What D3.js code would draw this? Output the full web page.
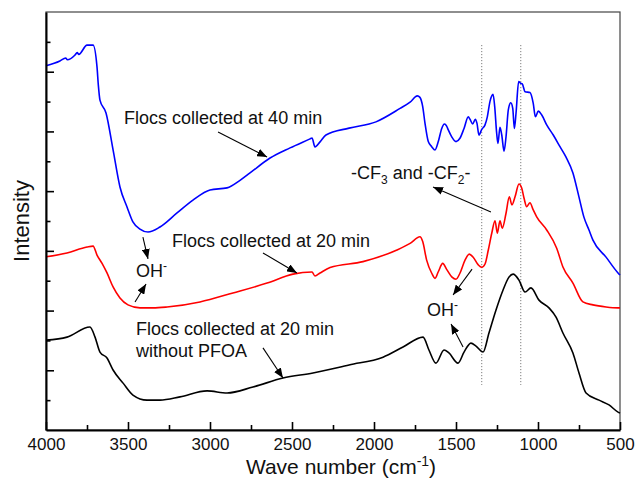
<!DOCTYPE html>
<html>
<head>
<meta charset="utf-8">
<script src="https://cdn.jsdelivr.net/npm/d3@7"></script>
<style>
  html, body { margin: 0; padding: 0; background: #fff; }
  svg { display: block; font-family: Arial, "Liberation Sans", sans-serif; }
</style>
</head>
<body>
<svg id="chart" width="636" height="481"></svg>
<script>
// FTIR spectra: wavenumber (cm-1) and relative intensity (offset, arbitrary units)
const wave40 = [4000,3915,3880,3870,3823,3810,3800,3750,3713,3689,3681,3671,3634,3591,3549,3506,3470,3427,3378,3305,3201,3104,3000,2896,2817,2756,2634,2512,2390,2378,2360,2329,2293,2152,1988,1841,1780,1736,1720,1703,1689,1669,1648,1628,1608,1587,1571,1557,1547,1526,1500,1476,1451,1425,1415,1398,1382,1372,1360,1343,1323,1309,1293,1274,1264,1252,1244,1232,1221,1207,1195,1181,1166,1154,1144,1134,1118,1105,1096,1079,1049,1029,1016,998,977,947,907,866,829,787,750,720,689,665,585,512,500];
const int40 = [12.20,12.36,12.46,12.40,12.56,12.64,12.58,12.89,12.89,12.16,11.56,11.05,10.62,9.38,8.14,7.47,6.97,6.73,6.63,6.80,7.27,7.70,8.04,8.11,8.36,8.61,9.11,9.45,9.75,9.78,9.48,9.65,9.88,10.11,10.32,10.77,10.98,11.19,11.14,10.83,10.27,9.66,9.49,9.38,9.66,10.10,10.25,10.18,10.05,9.82,9.66,9.77,10.10,10.49,10.41,10.25,10.41,10.27,9.88,10.07,10.22,10.49,11.00,11.24,10.83,9.94,9.60,10.14,9.88,9.34,9.82,10.72,10.96,10.77,10.10,10.61,11.67,11.61,11.59,11.33,11.30,10.94,10.49,10.68,10.55,10.22,9.88,9.49,9.14,8.61,7.80,7.13,6.70,6.36,5.79,5.26,5.19];

const wave20 = [4000,3872,3750,3713,3689,3659,3628,3591,3549,3500,3427,3348,3262,3061,2860,2652,2494,2378,2360,2329,2268,2067,1860,1780,1720,1703,1679,1648,1628,1608,1581,1557,1526,1500,1476,1445,1419,1394,1364,1343,1323,1303,1282,1262,1248,1232,1218,1195,1175,1159,1140,1116,1099,1085,1069,1049,1029,1008,947,886,848,787,726,665,585,512,500];
const int20 = [5.80,5.93,6.13,6.16,5.86,5.59,5.26,4.79,4.42,4.19,4.09,4.09,4.12,4.29,4.59,4.92,5.22,5.29,5.16,5.26,5.44,5.64,6.03,6.25,6.47,6.31,5.69,5.25,5.08,5.30,5.58,5.38,5.13,5.05,5.25,5.69,5.89,5.78,5.53,5.45,5.56,6.03,6.59,7.01,6.59,7.01,6.76,7.26,7.81,7.54,7.81,8.24,8.10,7.76,7.48,7.61,7.37,7.14,6.70,6.09,5.46,4.92,4.29,4.19,4.12,4.09,4.09];

const waveNoPFOA = [4000,3872,3732,3701,3671,3628,3591,3530,3470,3384,3305,3183,3018,2896,2738,2555,2372,2152,1945,1823,1701,1665,1622,1573,1543,1488,1451,1409,1378,1335,1299,1256,1213,1177,1152,1116,1079,1043,994,933,890,848,787,750,707,628,567,512,500];
const intNoPFOA = [3.01,3.11,3.45,3.11,2.61,2.41,2.01,1.57,1.17,1.00,1.00,1.11,1.31,1.24,1.44,1.74,1.91,2.18,2.44,2.78,3.11,2.68,2.24,2.68,2.58,2.24,2.61,2.91,2.81,2.61,3.25,4.02,4.69,5.12,5.22,5.02,4.62,4.76,4.35,4.09,3.78,3.25,2.58,1.91,1.24,1.00,0.84,0.60,0.57];

const xMajorTicks = [4000,3500,3000,2500,2000,1500,1000,500];
const xMinorTicks = [3750,3250,2750,2250,1750,1250,750];
const yTicks = [1,2,3,4,5,6,7,8,9,10,11,12,13];
const markerLines = [1343,1105];

const svg = d3.select("#chart");
const W = 636, H = 481;
const m = {top: 12, right: 16, bottom: 51, left: 46};

const x = d3.scaleLinear().domain([4000, 500]).range([m.left, W - m.right]);
const y = d3.scaleLinear().domain([0, 14]).range([H - m.bottom, m.top]);

// arrowhead marker
svg.append("defs").append("marker")
  .attr("id", "arrow")
  .attr("viewBox", "0 0 10 8")
  .attr("refX", 10).attr("refY", 4)
  .attr("markerWidth", 10).attr("markerHeight", 8)
  .attr("markerUnits", "userSpaceOnUse")
  .attr("orient", "auto")
  .append("path").attr("d", "M0,0 L10,4 L0,8 Z").attr("fill", "#000");

// plot frame
svg.append("rect")
  .attr("x", m.left).attr("y", m.top)
  .attr("width", W - m.left - m.right).attr("height", H - m.top - m.bottom)
  .attr("fill", "none").attr("stroke", "#444").attr("stroke-width", 1.2);

// dotted reference lines at the C-F bands
svg.append("g").selectAll("line").data(markerLines).join("line")
  .attr("x1", d => x(d)).attr("x2", d => x(d))
  .attr("y1", y(12.89)).attr("y2", y(1.51))
  .attr("stroke", "#666").attr("stroke-width", 1)
  .attr("stroke-dasharray", "1,2");

// spectra
const line = d3.line().x(d => x(d[0])).y(d => y(d[1])).curve(d3.curveMonotoneX);
const series = [
  {w: waveNoPFOA, v: intNoPFOA, color: "#000000"},
  {w: wave20, v: int20, color: "#ff0000"},
  {w: wave40, v: int40, color: "#0000ff"}
];
svg.append("g").selectAll("path").data(series).join("path")
  .attr("d", s => line(s.w.map((w, i) => [w, s.v[i]])))
  .attr("fill", "none").attr("stroke", s => s.color)
  .attr("stroke-width", 1.6).attr("stroke-linejoin", "round");

// axes
const xAxis = svg.append("g").attr("transform", `translate(0,${H - m.bottom})`)
  .call(d3.axisBottom(x).tickValues(xMajorTicks).tickSize(-8).tickSizeOuter(0).tickPadding(8).tickFormat(d3.format("d")));
xAxis.select(".domain").attr("stroke-width", 2);
xAxis.selectAll(".tick line").attr("stroke-width", 1.6);
xAxis.selectAll("text").attr("font-size", 17).attr("fill", "#111")
  .attr("font-family", "Arial, 'Liberation Sans', sans-serif");

const xMinor = svg.append("g").attr("transform", `translate(0,${H - m.bottom})`)
  .call(d3.axisBottom(x).tickValues(xMinorTicks).tickSize(-5).tickFormat(""));
xMinor.select(".domain").remove();
xMinor.selectAll(".tick line").attr("stroke-width", 1.6);

const yAxis = svg.append("g").attr("transform", `translate(${m.left},0)`)
  .call(d3.axisLeft(y).tickValues(yTicks).tickSize(0).tickSizeOuter(0).tickFormat(""));
yAxis.select(".domain").attr("stroke-width", 2);
yAxis.selectAll(".tick line")
  .attr("x2", d => d % 2 === 0 ? 8 : 4.5)
  .attr("stroke", "#000").attr("stroke-width", 1.6);

// axis titles
const xt = svg.append("text")
  .attr("x", (m.left + W - m.right) / 2 + 8).attr("y", 474)
  .attr("text-anchor", "middle").attr("font-size", 21).attr("fill", "#111");
xt.append("tspan").text("Wave number (cm");
xt.append("tspan").attr("dy", -8).attr("font-size", 14).text("-1");
xt.append("tspan").attr("dy", 8).text(")");

svg.append("text")
  .attr("transform", `translate(29,${(m.top + H - m.bottom) / 2}) rotate(-90)`)
  .attr("text-anchor", "middle").attr("font-size", 22).attr("fill", "#111")
  .text("Intensity");

// annotations
const ann = svg.append("g").attr("font-size", 18).attr("fill", "#111");
function label(w, v, parts) {
  const t = ann.append("text").attr("x", x(w)).attr("y", y(v));
  parts.forEach(p => {
    const s = t.append("tspan").text(p.t);
    if (p.sup) s.attr("dy", -7).attr("font-size", 12);
    if (p.sub) s.attr("dy", 5).attr("font-size", 12);
    if (p.reset) s.attr("dy", p.reset);
  });
}
function arrow(w1, v1, w2, v2) {
  ann.append("line")
    .attr("x1", x(w1)).attr("y1", y(v1)).attr("x2", x(w2)).attr("y2", y(v2))
    .attr("stroke", "#000").attr("stroke-width", 1.1)
    .attr("marker-end", "url(#arrow)");
}

label(3524, 10.25, [{t: "Flocs collected at 40 min"}]);
arrow(2951, 9.98, 2652, 9.14);

label(3232, 6.13, [{t: "Flocs collected at 20 min"}]);
arrow(2677, 5.93, 2470, 5.26);

label(3451, 3.18, [{t: "Flocs collected at 20 min"}]);
label(3451, 2.45, [{t: "without PFOA"}]);
arrow(2677, 2.75, 2555, 1.74);

label(3451, 5.12, [{t: "OH"}, {t: "-", sup: true}]);
arrow(3409, 6.46, 3378, 5.73);
arrow(3457, 4.29, 3390, 4.89);

label(1677, 3.82, [{t: "OH"}, {t: "-", sup: true}]);
arrow(1402, 5.39, 1518, 4.52);
arrow(1457, 2.78, 1530, 3.55);

label(2140, 8.41, [{t: "-CF"}, {t: "3", sub: true}, {t: " and -CF", reset: -5}, {t: "2", sub: true}, {t: "-", reset: -5}]);
arrow(1287, 7.30, 1640, 8.14);
</script>
</body>
</html>
